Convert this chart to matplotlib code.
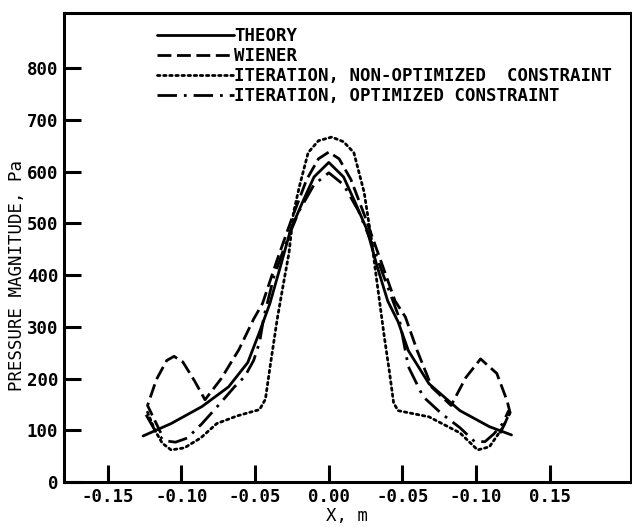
import numpy as np
import matplotlib
matplotlib.use("Agg")
import matplotlib.pyplot as plt

# values
theory_x = [-0.126, -0.107, -0.086, -0.068, -0.055, -0.047, -0.040, -0.033, -0.026, -0.018, -0.010, 0.000,
            0.010, 0.018, 0.026, 0.033, 0.040, 0.047, 0.054, 0.068, 0.089, 0.109, 0.124]
theory_y = [89, 113, 146, 184, 231, 290, 345, 415, 487, 540, 590, 618,
            590, 540, 487, 415, 350, 310, 254, 190, 138, 107, 91]

wiener_x = [-0.114, -0.123, -0.117, -0.110, -0.105, -0.099, -0.091, -0.084, -0.073, -0.061, -0.051, -0.045,
            -0.035, -0.025, -0.015, -0.007, 0.000, 0.007, 0.015, 0.025, 0.035, 0.045, 0.052, 0.060,
            0.070, 0.083, 0.093, 0.103, 0.114, 0.121, 0.123, 0.116]
wiener_y = [95, 148, 198, 235, 243, 232, 195, 159, 200, 256, 315, 345,
            430, 510, 585, 625, 638, 625, 585, 510, 430, 350, 319, 254,
            183, 148, 202, 238, 210, 157, 134, 93]

nonopt_x = [-0.123, -0.118, -0.113, -0.107, -0.098, -0.087, -0.076, -0.062, -0.047, -0.043, -0.040, -0.035,
            -0.031, -0.027, -0.024, -0.020, -0.014, -0.007, 0.002, 0.010, 0.017, 0.024, 0.029, 0.0315,
            0.0346, 0.0377, 0.041, 0.044, 0.047, 0.068, 0.089, 0.101, 0.109, 0.118, 0.123]
nonopt_y = [135, 100, 75, 62, 66, 85, 113, 128, 140, 160, 220, 315,
            380, 443, 520, 571, 637, 660, 667, 658, 637, 560, 468, 412,
            346, 280, 216, 153, 138, 126, 95, 62, 68, 105, 135]

opt_x = [-0.124, -0.118, -0.112, -0.104, -0.096, -0.086, -0.075, -0.064, -0.057, -0.051, -0.047, -0.044,
         -0.037, -0.028, -0.020, -0.010, 0.000, 0.010, 0.020, 0.028, 0.037, 0.0476, 0.054, 0.064,
         0.0766, 0.089, 0.099, 0.106, 0.112, 0.118, 0.122]
opt_y = [130, 100, 80, 77, 85, 113, 148, 184, 204, 235, 270, 320,
         400, 470, 525, 575, 598, 575, 525, 470, 400, 319, 223, 165,
         132, 105, 78, 78, 93, 113, 138]

xticks = [-0.15, -0.10, -0.05, 0.0, 0.05, 0.10, 0.15]
xtick_labels = ["-0.15", "-0.10", "-0.05", "0.00", "-0.05", "-0.10", "0.15"]
yticks = [0, 100, 200, 300, 400, 500, 600, 700, 800]

plt.rcParams['font.family'] = ['DejaVu Sans Mono']
plt.rcParams['font.weight'] = 'bold'
fs = 12.5

fig = plt.figure(figsize=(6.32, 5.27), dpi=100)
ax = fig.add_axes([0.101, 0.0854, 0.897, 0.889])

lw = 2.0
ax.plot(theory_x, theory_y, color='black', lw=lw, solid_capstyle='round', label='THEORY')
ax.plot(wiener_x, wiener_y, color='black', lw=lw, dashes=(5, 2), label='WIENER')
ax.plot(nonopt_x, nonopt_y, color='black', lw=lw, dashes=(0.9, 1.3), dash_capstyle='round',
        label='ITERATION, NON-OPTIMIZED  CONSTRAINT')
ax.plot(opt_x, opt_y, color='black', lw=lw, dashes=(7, 2.5, 1, 2.5),
        label='ITERATION, OPTIMIZED CONSTRAINT')

ax.set_xlim(-0.1798, 0.2049)
ax.set_ylim(0, 906)
ax.set_xticks(xticks)
ax.set_xticklabels(xtick_labels)
ax.set_yticks(yticks)

ax.tick_params(direction='in', length=12, width=2.2, labelsize=fs, pad=4,
               top=False, right=False)
ax.tick_params(axis='y', pad=4)
for s in ax.spines.values():
    s.set_linewidth(2.2)

ax.set_xlabel('X, m', fontsize=fs)
ax.xaxis.set_label_coords(0.5, -0.053)
ax.set_ylabel('PRESSURE MAGNITUDE, Pa', fontsize=fs)
ax.yaxis.set_label_coords(-0.066, 0.44)

ax.legend(loc='upper left', bbox_to_anchor=(0.165, 0.971), frameon=False,
          fontsize=fs, handlelength=4.4, handletextpad=0.0, labelspacing=0.12,
          borderpad=0, borderaxespad=0)

fig.savefig('out.png', dpi=100)
